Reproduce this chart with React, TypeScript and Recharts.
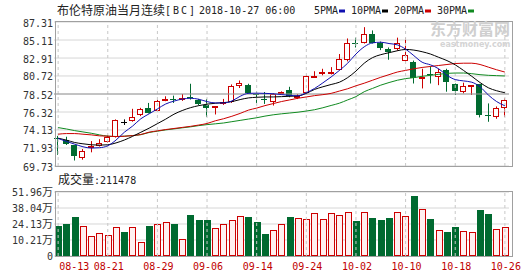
import React from 'react';
import { ComposedChart, Bar, Line, XAxis, YAxis, CartesianGrid, ReferenceLine } from 'recharts';

// trading days (MM-DD), 2018
const dates = [
  '08-13', '08-14', '08-15', '08-16', '08-17', '08-20', '08-21', '08-22', '08-23', '08-24',
  '08-27', '08-28', '08-29', '08-30', '08-31', '09-03', '09-04', '09-05', '09-06', '09-07',
  '09-10', '09-11', '09-12', '09-13', '09-14', '09-17', '09-18', '09-19', '09-20', '09-21',
  '09-24', '09-25', '09-26', '09-27', '09-28', '10-01', '10-02', '10-03', '10-04', '10-05',
  '10-08', '10-09', '10-10', '10-11', '10-12', '10-15', '10-16', '10-17', '10-18', '10-19',
  '10-22', '10-23', '10-24', '10-25', '10-26',
];

const opens = [
  73.2, 72.9, 72.28, 70.75, 71.88, 72.2, 72.68, 73.33, 75.12, 75.22,
  75.94, 76.75, 76.43, 77.76, 77.85, 77.76, 78.2, 77.76, 77.23, 76.79,
  77.27, 77.55, 79.53, 79.65, 78.56, 77.9, 77.51, 78.56, 79.0, 78.0,
  78.6, 80.6, 81.0, 81.1, 81.48, 82.68, 84.8, 84.8, 85.88, 84.8,
  84.0, 84.0, 82.56, 82.44, 80.3, 81.0, 80.6, 81.43, 79.72, 78.8,
  79.55, 79.68, 75.98, 75.66, 76.76,
];
const highs = [
  73.4, 73.3, 72.3, 71.8, 72.77, 73.0, 73.49, 75.42, 75.42, 76.71,
  76.83, 77.43, 77.84, 78.24, 78.32, 78.52, 79.77, 77.92, 77.92, 77.03,
  77.92, 79.69, 80.17, 79.77, 78.84, 78.76, 78.64, 78.84, 79.4, 78.5,
  80.85, 81.3, 81.6, 81.8, 83.4, 85.3, 85.4, 86.68, 86.28, 84.92,
  84.2, 85.4, 85.4, 82.6, 81.6, 81.9, 81.6, 81.6, 79.8, 79.9,
  79.6, 79.75, 77.37, 77.0, 77.98,
];
const lows = [
  71.1, 72.3, 70.4, 70.5, 71.4, 72.1, 72.6, 73.2, 74.74, 75.14,
  75.82, 76.15, 76.35, 77.64, 77.43, 77.68, 77.84, 77.15, 75.74, 76.02,
  77.19, 77.43, 79.25, 78.52, 77.43, 77.31, 77.11, 78.44, 78.12, 77.9,
  78.5, 80.5, 80.8, 80.9, 81.4, 82.5, 84.2, 84.68, 84.68, 83.88,
  82.7, 83.8, 82.4, 79.8, 79.2, 79.8, 79.6, 78.8, 78.4, 78.6,
  78.4, 75.66, 75.13, 75.5, 75.74,
];
const closes = [
  73.0, 72.36, 70.99, 71.56, 72.12, 72.52, 73.29, 75.3, 75.12, 75.74,
  76.71, 76.23, 77.72, 77.92, 77.78, 78.04, 78.08, 77.31, 76.83, 77.03,
  77.51, 79.53, 79.85, 78.64, 78.4, 77.8, 78.52, 78.76, 78.28, 78.3,
  80.7, 80.72, 81.2, 81.2, 82.8, 84.8, 84.7, 85.88, 84.8, 84.1,
  83.7, 84.8, 83.25, 80.42, 80.61, 80.9, 81.2, 80.0, 78.9, 79.48,
  79.6, 75.94, 75.9, 76.76, 77.77,
];

// volume, 万
const volumes = [
  22.45, 24.17, 30.09, 22.23, 13.4, 15.99, 14.59, 21.26, 17.07, 21.26,
  8.35, 22.34, 23.85, 25.57, 24.17, 11.04, 31.92, 27.72, 27.72, 20.51,
  23.95, 27.61, 30.73, 30.3, 26.11, 15.56, 18.89, 24.06, 30.2, 29.01,
  28.47, 33.53, 28.47, 33.96, 31.81, 34.29, 26.75, 34.29, 29.66, 27.51,
  29.12, 34.83, 31.06, 48.5, 37.19, 28.47, 18.89, 17.17, 21.48, 18.36,
  17.17, 36.33, 32.78, 19.76, 21.15,
];

const ma5 = [
  73.09, 72.73, 72.4, 72.08, 71.92, 71.96, 72.2, 72.9, 73.85, 74.6,
  75.5, 76.1, 76.7, 77.3, 77.65, 77.9, 78.0, 77.88, 77.59, 77.43,
  77.43, 77.67, 78.24, 78.6, 78.62, 78.6, 78.55, 78.45, 78.35, 78.3,
  78.68, 79.2, 79.88, 80.6, 81.4, 82.28, 83.4, 84.28, 84.76, 84.84,
  84.68, 84.52, 84.0, 83.2, 82.4, 82.08, 81.6, 80.8, 80.28, 80.12,
  79.96, 79.4, 78.4, 77.6, 77.08,
];
const ma10 = [
  73.13, 72.89, 72.6, 72.44, 72.32, 72.28, 72.32, 72.55, 72.9, 73.35,
  73.85, 74.35, 74.9, 75.45, 76.05, 76.5, 76.85, 77.1, 77.28, 77.39,
  77.47, 77.59, 77.84, 78.04, 78.12, 78.16, 78.16, 78.2, 78.24, 78.28,
  78.6, 79.08, 79.4, 79.68, 79.96, 80.52, 81.32, 82.28, 82.96, 83.32,
  83.56, 83.8, 83.96, 83.88, 83.68, 83.4, 83.0, 82.6, 82.08, 81.4,
  80.68, 79.92, 79.28, 78.92, 78.68,
];
const ma20 = [
  73.61, 73.69, 73.69, 73.61, 73.53, 73.41, 73.37, 73.32, 73.36, 73.44,
  73.58, 73.86, 74.02, 74.18, 74.31, 74.44, 74.57, 74.73, 74.92, 75.25,
  75.5, 75.8, 76.15, 76.55, 76.8, 77.1, 77.35, 77.6, 77.8, 78.0,
  78.16, 78.32, 78.44, 78.6, 78.88, 79.16, 79.52, 79.84, 80.2, 80.56,
  80.88, 81.2, 81.4, 81.6, 81.76, 81.88, 82.0, 82.12, 82.24, 82.28,
  82.28, 82.12, 81.8, 81.48, 81.2,
];
const ma30 = [
  74.42, 74.25, 74.05, 73.89, 73.73, 73.53, 73.37, 73.33, 73.37, 73.45,
  73.55, 73.82, 73.98, 74.14, 74.26, 74.39, 74.51, 74.66, 74.78, 74.88,
  74.98, 75.14, 75.3, 75.46, 75.62, 75.82, 75.98, 76.1, 76.2, 76.3,
  76.44, 76.6, 76.84, 77.12, 77.4, 77.8, 78.2, 78.8, 79.2, 79.6,
  79.92, 80.2, 80.4, 80.52, 80.68, 80.8, 80.92, 81.04, 81.08, 81.08,
  81.0, 80.88, 80.8, 80.76, 80.72,
];

const priceTicks = [69.73, 71.93, 74.13, 76.32, 78.52, 80.72, 82.91, 85.11, 87.31];
const volTicks = [-3.71, 10.21, 24.13, 38.04, 51.96];
const dateTicks = ['08-13', '08-21', '08-29', '09-06', '09-14', '09-24', '10-02', '10-10', '10-18', '10-26'];
const lastVolume = '211478';

const UP = '#cc0000';
const DOWN = '#006a30';
const MONO = "'DejaVu Sans Mono', monospace";
const CJK = "'Noto Sans CJK SC', sans-serif";

const data = dates.map((d, i) => ({
  date: d,
  open: opens[i],
  high: highs[i],
  low: lows[i],
  close: closes[i],
  vol: volumes[i],
  ma5: ma5[i],
  ma10: ma10[i],
  ma20: ma20[i],
  ma30: ma30[i],
}));

function Candle(props: any) {
  const { x, y, width, height, payload } = props;
  if (x == null || !payload) return null;
  const { open, close, high, low } = payload;
  const top = Math.min(y, y + height);
  const k = Math.abs(height) / (high - low);
  const py = (v: number) => top + (high - v) * k;
  const n = Math.floor(x + width / 2);
  const cx = n + 0.5;
  const yO = Math.round(py(open));
  const yC = Math.round(py(close));
  if (close > open) {
    return (
      <g>
        <line x1={cx} x2={cx} y1={py(high)} y2={yC} stroke={UP} />
        <line x1={cx} x2={cx} y1={yO} y2={py(low)} stroke={UP} />
        <rect x={n - 2.5} y={yC + 0.5} width={5} height={Math.max(yO - yC - 1, 1)} fill="#fff" stroke={UP} />
      </g>
    );
  }
  const color = close < open ? DOWN : '#000';
  return (
    <g>
      <line x1={cx} x2={cx} y1={py(high)} y2={py(low)} stroke={color} />
      <rect x={n - 3} y={yO} width={6} height={Math.max(yC - yO, 1)} fill={color} />
    </g>
  );
}

function VolBar(props: any) {
  const { x, y, width, height, payload } = props;
  if (x == null || !payload) return null;
  const top = Math.round(Math.min(y, y + height));
  const bottom = Math.round(Math.max(y, y + height));
  const left = Math.round(x);
  const w = Math.round(width);
  if (payload.close > payload.open) {
    return <rect x={left + 0.5} y={top + 0.5} width={w - 1} height={bottom - top - 1} fill="#fff0f0" stroke={UP} />;
  }
  return <rect x={left} y={top} width={w} height={bottom - top} fill={DOWN} />;
}

const PriceTick = ({ y, payload }: any) => (
  <text x={53} y={y} dy={4.5} textAnchor="end" fontFamily={MONO} fontSize={10} fill="#333">
    {payload.value.toFixed(2)}
  </text>
);

const VolTick = ({ y, payload }: any) =>
  payload.value <= 0 ? (
    <text x={53} y={y} dy={4} textAnchor="end" fontFamily={MONO} fontSize={10} fill="#333">0</text>
  ) : (
    <text x={53} y={y} dy={4} textAnchor="end" fill="#333">
      <tspan fontFamily={MONO} fontSize={10}>{payload.value.toFixed(2)}</tspan>
      <tspan fontFamily={CJK} fontSize={11}>万</tspan>
    </text>
  );

const DateTick = ({ x, payload, index }: any) => (
  <text
    x={x + 1}
    y={94}
    textAnchor={index === 0 ? 'start' : 'middle'}
    fontFamily={MONO}
    fontSize={10}
    fill="#c00000"
  >
    {payload.value}
  </text>
);

const legend = [
  { label: '5PMA', color: '#1010b0', x: 314 },
  { label: '10PMA', color: '#000000', x: 351 },
  { label: '20PMA', color: '#cc0000', x: 394 },
  { label: '30PMA', color: '#108a20', x: 437 },
];

export default function App() {
  return (
    <div style={{ position: 'absolute', left: 0, top: 0, width: 530, height: 276, background: '#fff' }}>
      <div style={{ position: 'absolute', left: 0, top: 0 }}>
        <ComposedChart width={530} height={180} data={data} margin={{ top: 22, right: 21, left: 0, bottom: 14 }}>
          <CartesianGrid vertical={false} stroke="#d6d6d6" />
          <XAxis dataKey="date" hide />
          <YAxis
            domain={[69.73, 87.31]}
            ticks={priceTicks}
            interval={0}
            width={54}
            axisLine={false}
            tickLine={false}
            tick={<PriceTick />}
          />
          {dateTicks.map((d) => (
            <ReferenceLine key={d} x={d} stroke="#c8c8c8" strokeDasharray="3 3" />
          ))}
          <ReferenceLine y={78.52} stroke="#9a9a9a" />
          <Line dataKey="ma30" stroke="#108a20" dot={false} activeDot={false} type="monotone" isAnimationActive={false} />
          <Line dataKey="ma20" stroke="#cc0000" dot={false} activeDot={false} type="monotone" isAnimationActive={false} />
          <Line dataKey="ma10" stroke="#000000" dot={false} activeDot={false} type="monotone" isAnimationActive={false} />
          <Line dataKey="ma5" stroke="#1010b0" dot={false} activeDot={false} type="monotone" isAnimationActive={false} />
          <Bar dataKey={(d: any) => [d.low, d.high]} barSize={6} shape={<Candle />} isAnimationActive={false} />
        </ComposedChart>
      </div>
      <div style={{ position: 'absolute', left: 0, top: 176 }}>
        <ComposedChart width={530} height={100} data={data} margin={{ top: 16, right: 21, left: 0, bottom: 0 }}>
          <CartesianGrid vertical={false} stroke="#d6d6d6" />
          <XAxis
            dataKey="date"
            ticks={dateTicks}
            interval={0}
            height={20}
            axisLine={false}
            tickLine={false}
            tick={<DateTick />}
          />
          <YAxis
            domain={[-3.71, 51.96]}
            ticks={volTicks}
            interval={0}
            width={54}
            axisLine={false}
            tickLine={false}
            tick={<VolTick />}
          />
          {dateTicks.map((d) => (
            <ReferenceLine key={d} x={d} stroke="#c8c8c8" strokeDasharray="3 3" />
          ))}
          <Bar dataKey={(d: any) => [-3.71, d.vol]} barSize={7} shape={<VolBar />} isAnimationActive={false} />
        </ComposedChart>
      </div>
      <svg width={530} height={276} style={{ position: 'absolute', left: 0, top: 0, pointerEvents: 'none' }}>
        <rect x={55.5} y={21.5} width={457} height={145} fill="none" stroke="#a0a0a0" />
        <rect x={55.5} y={191.5} width={457} height={65} fill="none" stroke="#a0a0a0" />
        <text x={57} y={14.5} fontFamily={CJK} fontSize={12} fill="#222">布伦特原油当月连续</text>
        <text x={165} y={14} fontFamily={MONO} fontSize={10} fill="#222" textLength={30}>[BC]</text>
        <text x={199} y={14} fontFamily={MONO} fontSize={10} fill="#222">2018-10-27 06:00</text>
        {legend.map((l) => (
          <g key={l.label}>
            <text x={l.x} y={14} fontFamily={MONO} fontSize={10} fill="#222">{l.label}</text>
            <rect x={l.x + l.label.length * 6 + 1} y={9.5} width={6} height={3} fill={l.color} />
          </g>
        ))}
        <text x={430} y={35} fontFamily={CJK} fontSize={16} fontWeight="bold" fill="#cfcfcf">东方财富网</text>
        <text x={440} y={47} fontFamily="'DejaVu Sans', sans-serif" fontSize={8} fontWeight="bold" fill="#d4d4d4">eastmoney.com</text>
        <text x={58} y={184} fill="#222">
          <tspan fontFamily={CJK} fontSize={12}>成交量</tspan>
          <tspan fontFamily={MONO} fontSize={10}>{':' + lastVolume}</tspan>
        </text>
      </svg>
    </div>
  );
}
